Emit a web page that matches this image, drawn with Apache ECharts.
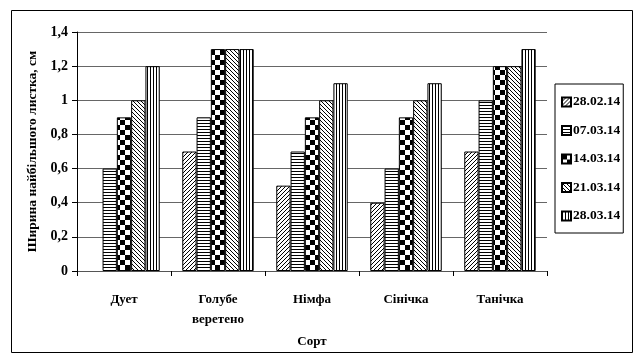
<!DOCTYPE html>
<html><head><meta charset="utf-8">
<script src="https://cdn.jsdelivr.net/npm/echarts@6/dist/echarts.min.js"></script>
<style>html,body{margin:0;padding:0;background:#fff}#c{width:637px;height:359px}</style>
</head><body><div id="c"></div>
<script>
const categories = ['Дует', 'Голубе\nверетено', 'Німфа', 'Сінічка', 'Танічка'];
const seriesNames = ['28.02.14', '07.03.14', '14.03.14', '21.03.14', '28.03.14'];
const s280214 = [null, 0.7, 0.5, 0.4, 0.7];
const s070314 = [0.6, 0.9, 0.7, 0.6, 1.0];
const s140314 = [0.9, 1.3, 0.9, 0.9, 1.2];
const s210314 = [1.0, 1.3, 1.0, 1.0, 1.2];
const s280314 = [1.2, 1.3, 1.1, 1.1, 1.3];
const seriesValues = [s280214, s070314, s140314, s210314, s280314];
const yTicks = ['0', '0,2', '0,4', '0,6', '0,8', '1', '1,2', '1,4'];

function tile(w, h, draw) {
  const c = document.createElement('canvas');
  c.width = w; c.height = h;
  const g = c.getContext('2d');
  g.fillStyle = '#fff'; g.fillRect(0, 0, w, h);
  g.fillStyle = '#000'; g.strokeStyle = '#000';
  draw(g, w, h);
  return c;
}
const patterns = [
  tile(4, 4, (g) => { for (let i = 0; i < 4; i++) { g.fillRect(3 - i, i, 1, 1); } }),
  tile(1, 3, (g) => { g.fillRect(0, 0, 1, 1); }),
  tile(10, 10, (g) => { g.fillRect(0, 0, 5, 5); g.fillRect(5, 5, 5, 5); }),
  tile(4, 4, (g) => { for (let i = 0; i < 4; i++) { g.fillRect(i, i, 1, 1); } }),
  tile(3, 1, (g) => { g.fillRect(0, 0, 1, 1); })
];

const font = 'Liberation Serif';
const chart = echarts.init(document.getElementById('c'), null, {renderer: 'canvas'});
chart.setOption({
  animation: false,
  backgroundColor: '#fff',
  graphic: [{
    type: 'rect', left: 9, top: 8, shape: {width: 621, height: 342},
    style: {fill: 'none', stroke: '#000', lineWidth: 1}
  }],
  grid: {left: 77, right: 90, top: 32, bottom: 88},
  legend: {
    orient: 'vertical', left: 555, top: 84,
    data: seriesNames,
    borderColor: '#000', borderWidth: 1,
    padding: [11, 3, 10, 6],
    itemGap: 14.5, itemWidth: 9, itemHeight: 9,
    icon: 'rect',
    textStyle: {fontFamily: font, fontWeight: 'bold', fontSize: 13.5, color: '#000', padding: [0, 0, 0, -3]}
  },
  xAxis: {
    type: 'category', data: categories,
    name: 'Сорт', nameLocation: 'middle', nameGap: 60,
    nameTextStyle: {fontFamily: font, fontWeight: 'bold', fontSize: 13, color: '#000'},
    axisLine: {lineStyle: {color: '#555', width: 1}},
    axisTick: {show: true, length: 5, lineStyle: {color: '#000'}},
    axisLabel: {fontFamily: font, fontWeight: 'bold', fontSize: 13, color: '#000', margin: 19, lineHeight: 20}
  },
  yAxis: {
    type: 'value', min: 0, max: 1.4, interval: 0.2,
    name: 'Ширина найбільшого листка, см', nameLocation: 'middle', nameGap: 36,
    nameTextStyle: {fontFamily: font, fontWeight: 'bold', fontSize: 13.5, color: '#000'},
    axisLine: {show: true, lineStyle: {color: '#000', width: 1}},
    axisTick: {show: true, length: 5, lineStyle: {color: '#000'}},
    splitLine: {lineStyle: {color: '#666', width: 1}},
    axisLabel: {
      fontFamily: font, fontWeight: 'bold', fontSize: 14, color: '#000', margin: 9,
      formatter: (v) => yTicks[Math.round(v / 0.2)]
    }
  },
  series: seriesNames.map((n, i) => ({
    name: n, type: 'bar', data: seriesValues[i],
    barGap: '0%', barCategoryGap: '24%',
    itemStyle: {color: {image: patterns[i], repeat: 'repeat'}, borderColor: '#000', borderWidth: 1}
  }))
});
</script></body></html>
